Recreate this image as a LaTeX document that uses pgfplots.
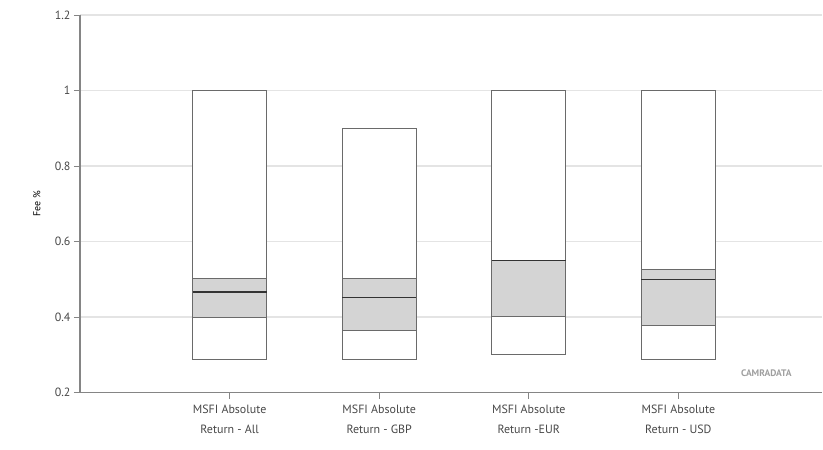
\documentclass[border=0pt]{standalone}
\usepackage{fontspec}
\setmainfont{PT Sans}
\usepackage{pgfplots}
\pgfplotsset{compat=1.18}
\definecolor{boxedge}{HTML}{6A6A6A}
\definecolor{medline}{HTML}{333333}
\definecolor{iqr}{HTML}{D4D4D4}
\definecolor{gridc}{HTML}{E4E4E4}
\definecolor{axisc}{HTML}{858585}
\definecolor{txt}{HTML}{484848}
\begin{document}
\begin{tikzpicture}
\begin{axis}[
  scale only axis,
  width=742bp, height=377.7bp,
  xmin=-1, xmax=3.96,
  ymin=0.2, ymax=1.2,
  ytick={0.2,0.4,0.6,0.8,1,1.2},
  xtick={0,1,2,3},
  xticklabels={{MSFI Absolute\\Return - All},{MSFI Absolute\\Return - GBP},{MSFI Absolute\\Return -EUR},{MSFI Absolute\\Return - USD}},
  axis lines=left,
  axis line style={-, color=axisc, line width=1.3bp},
  ymajorgrids,
  grid style={gridc, line width=1.4bp},
  tick style={axisc, line width=0.8bp},
  major tick length=6bp,
  tick align=outside,
  xtick pos=bottom, ytick pos=left,
  /pgf/number format/assume math mode=true,
  ticklabel style={font=\fontsize{12}{14}\selectfont, text=txt},
  xticklabel style={align=center, font=\fontsize{12}{20}\selectfont, yshift=-3bp},
  ylabel={Fee \%},
  ylabel style={font=\fontsize{11.5}{13}\selectfont, text=txt},
  every axis y label/.style={at={(ticklabel* cs:0.5)}, anchor=south, rotate=90, xshift=0bp, yshift=36bp},
  clip=false,
]
% outer boxes (min to max)
\addplot[fill=white, draw=boxedge, line width=1bp] coordinates {(-0.247,0.287) (0.247,0.287) (0.247,1.0) (-0.247,1.0)} -- cycle;
\addplot[fill=white, draw=boxedge, line width=1bp] coordinates {(0.753,0.287) (1.247,0.287) (1.247,0.9) (0.753,0.9)} -- cycle;
\addplot[fill=white, draw=boxedge, line width=1bp] coordinates {(1.753,0.302) (2.247,0.302) (2.247,1.0) (1.753,1.0)} -- cycle;
\addplot[fill=white, draw=boxedge, line width=1bp] coordinates {(2.753,0.287) (3.247,0.287) (3.247,1.0) (2.753,1.0)} -- cycle;
% interquartile boxes
\addplot[fill=iqr, draw=boxedge, line width=1bp] coordinates {(-0.247,0.400) (0.247,0.400) (0.247,0.502) (-0.247,0.502)} -- cycle;
\addplot[fill=iqr, draw=boxedge, line width=1bp] coordinates {(0.753,0.366) (1.247,0.366) (1.247,0.502) (0.753,0.502)} -- cycle;
\addplot[fill=iqr, draw=boxedge, line width=1bp] coordinates {(1.753,0.403) (2.247,0.403) (2.247,0.550) (1.753,0.550)} -- cycle;
\addplot[fill=iqr, draw=boxedge, line width=1bp] coordinates {(2.753,0.377) (3.247,0.377) (3.247,0.527) (2.753,0.527)} -- cycle;
% medians
\addplot[draw=medline, line width=1.4bp, unbounded coords=jump] coordinates {
  (-0.247,0.467) (0.247,0.467) (0.5,nan)
  (0.753,0.452) (1.247,0.452) (1.5,nan)
  (1.753,0.550) (2.247,0.550) (2.5,nan)
  (2.753,0.500) (3.247,0.500)
};
\node[font=\fontsize{9.5}{11}\selectfont\bfseries, text=gray!75, anchor=center] at (rel axis cs:0.925,0.052) {CAMRADATA};
\coordinate (A) at (rel axis cs:0,0);
\coordinate (B) at (rel axis cs:1,1);
\end{axis}
\path (A) ++(-80bp,-57.3bp) coordinate (P);
\path (B) ++(1bp,15bp) coordinate (Q);
\path (P) rectangle (Q);
\end{tikzpicture}
\end{document}
